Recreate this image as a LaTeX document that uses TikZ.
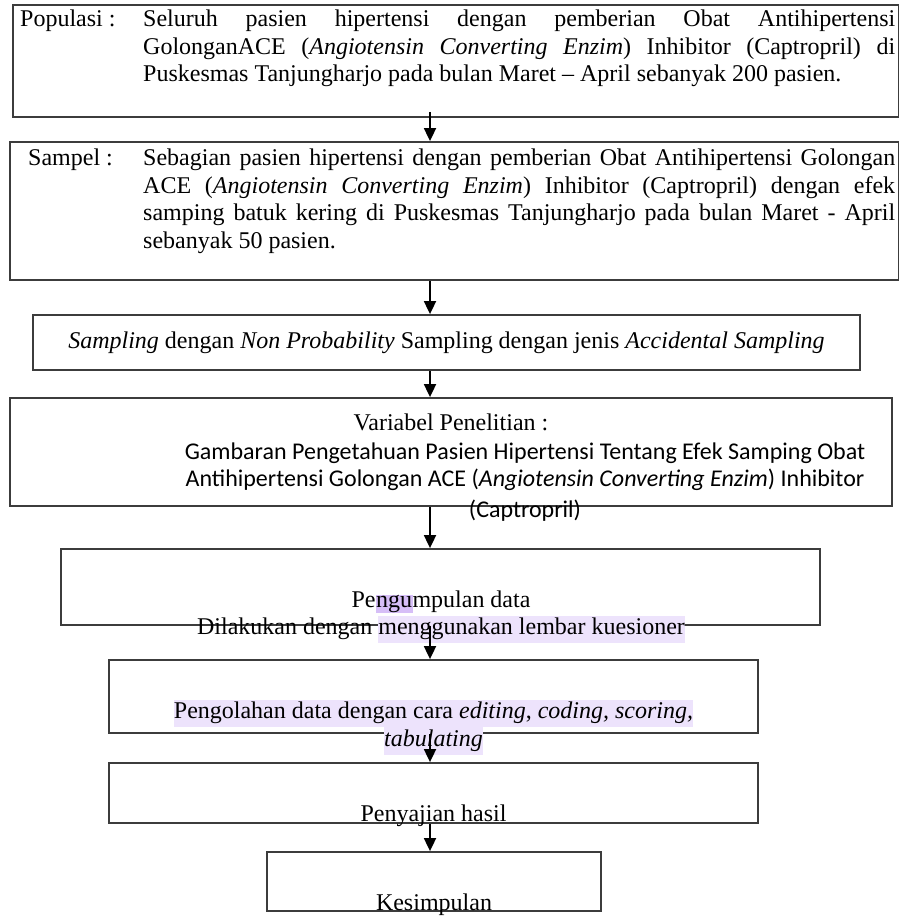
\documentclass[tikz,border=0pt]{standalone}
\usepackage{fontspec}
\setmainfont{Liberation Serif}
\newfontfamily\calibrifont{Carlito}
\usetikzlibrary{arrows.meta, positioning, calc}
\definecolor{bFrame}{RGB}{60, 60, 60}
\definecolor{cMark}{RGB}{237, 227, 252}
\definecolor{cMarkDeep}{RGB}{214, 190, 247}
\newcommand{\markit}[1]{{\setlength{\fboxsep}{0pt}\colorbox{cMark}{\strut #1}}}
\newcommand{\markdeep}[1]{{\setlength{\fboxsep}{0.5pt}\colorbox{cMarkDeep}{#1}}}

\begin{document}
\begin{tikzpicture}[
    x=1pt, y=-1pt,
    font=\fontsize{24}{27.5}\selectfont,
    frame/.style 2 args={
        draw=bFrame,
        line width=1.8pt,
        minimum width=#1,
        minimum height=#2,
        inner sep=0pt
    },
    txt/.style={inner sep=0pt, align=center},
    arrow/.style={-{Triangle[length=13pt,width=12pt]}, line width=1.8pt, draw=black}
]
\useasboundingbox (0,0) rectangle (899,916);

% Boxes
\node[frame={886pt}{112pt}] (pop) at (456,61) {};
\node[frame={889pt}{138pt}] (sam) at (454.5,211) {};
\node[frame={827pt}{55pt}] (teknik) at (446.5,342.5) {};
\node[frame={882pt}{108pt}] (var) at (451,452) {};
\node[frame={759pt}{76pt}] (kumpul) at (440.5,587) {};
\node[frame={649pt}{73pt}] (olah) at (433.5,696.5) {};
\node[frame={649pt}{60pt}] (saji) at (433.5,793) {};
\node[frame={334pt}{59pt}] (simpul) at (434,881.5) {};

% Populasi
\node[txt, anchor=north west] (popLabel) at (20,10) {Populasi :};
\node[txt, anchor=north west, text width=752pt, align=justify] (popText) at (143,10) {
    Seluruh pasien hipertensi dengan pemberian Obat Antihipertensi\linebreak
    GolonganACE (\textit{Angiotensin Converting Enzim}) Inhibitor (Captropril) di\linebreak
    Puskesmas Tanjungharjo pada bulan Maret -- April sebanyak 200 pasien.
};

% Sampel
\node[txt, anchor=north west] (samLabel) at (28,149) {Sampel :};
\node[txt, anchor=north west, text width=752pt, align=justify] (samText) at (143,149) {
    Sebagian pasien hipertensi dengan pemberian Obat Antihipertensi Golongan\linebreak
    ACE (\textit{Angiotensin Converting Enzim}) Inhibitor (Captropril) dengan efek\linebreak
    samping batuk kering di Puskesmas Tanjungharjo pada bulan Maret - April\linebreak
    sebanyak 50 pasien.
};

% Teknik sampling
\node[txt] (teknikText) at (446.5,343) {\textit{Sampling} dengan \textit{Non Probability} Sampling dengan jenis \textit{Accidental Sampling}};

% Variabel
\node[txt] (varLabel) at (451,422) {Variabel Penelitian :};
\node[txt, anchor=north, font=\calibrifont\fontsize{24}{27}\selectfont] (varText) at (525,443) {
    Gambaran Pengetahuan Pasien Hipertensi Tentang Efek Samping Obat\\
    Antihipertensi Golongan ACE (\textit{Angiotensin Converting Enzim}) Inhibitor\\[4pt]
    (Captropril)
};

% Tahap analisis
\node[txt] (kumpulText) at (441,617) {Pe\markdeep{ngu}mpulan data\\ Dilakukan dengan \markit{menggunakan lembar kuesioner}};
\node[txt] (olahText) at (433.5,727) {\markit{Pengolahan data dengan cara \textit{editing}, \textit{coding, scoring,}}\\ \markit{\textit{tabulating}}};
\node[txt] (sajiText) at (433.5,816) {Penyajian hasil};
\node[txt] (simpulText) at (434,905) {Kesimpulan};

% Arrows
\coordinate (spine) at (430,0);
\draw[arrow] ($(pop.south -| spine)+(0,-6)$) -- (sam.north -| spine);
\draw[arrow] (sam.south -| spine) -- (teknik.north -| spine);
\draw[arrow] (teknik.south -| spine) -- (var.north -| spine);
\draw[arrow] (var.south -| spine) -- (kumpul.north -| spine);
\draw[arrow] (kumpul.south -| spine) -- (olah.north -| spine);
\draw[arrow] (olah.south -| spine) -- (saji.north -| spine);
\draw[arrow] (saji.south -| spine) -- (simpul.north -| spine);

\end{tikzpicture}
\end{document}
